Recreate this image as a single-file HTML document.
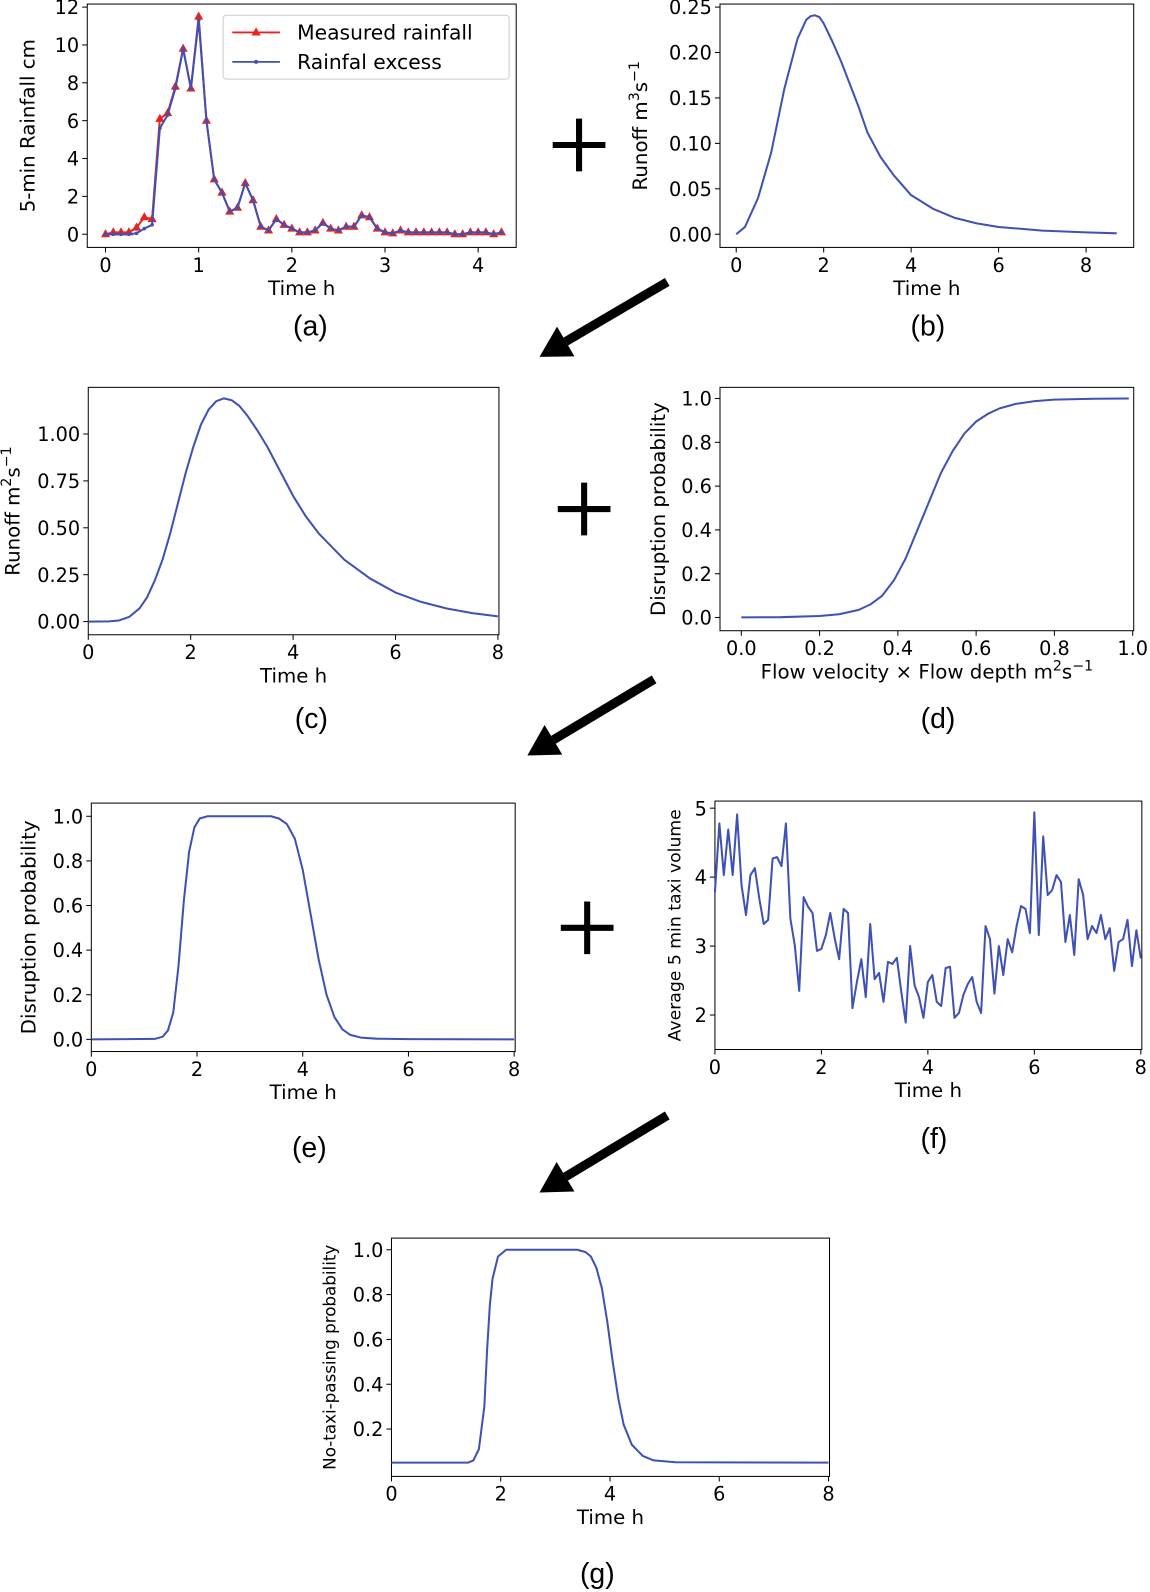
<!DOCTYPE html>
<html><head><meta charset="utf-8"><style>
html,body{margin:0;padding:0;background:#fff;}
svg{display:block;}
text{font-family:"DejaVu Sans","Liberation Sans",sans-serif;fill:#000;}
.lbl{font-family:"Liberation Sans","DejaVu Sans",sans-serif;font-size:28px;}
</style></head><body>
<svg id="fig" width="1150" height="1592" viewBox="0 0 1134 1570" xmlns="http://www.w3.org/2000/svg"></svg>
<script>
// Panel (a)
const aTimeStep = 1/12;
const aMeasured = [0,0.1,0.1,0.1,0.35,0.9,0.8,6.1,6.4,7.8,9.8,7.7,11.5,6.0,2.9,2.2,1.2,1.4,2.7,1.8,0.4,0.2,0.8,0.5,0.3,0.1,0.1,0.2,0.6,0.3,0.2,0.4,0.4,1.0,0.9,0.3,0.1,0.05,0.2,0.1,0.1,0.1,0.1,0.1,0.1,0,0,0.1,0.1,0.1,0,0.1];
const aExcess   = [0,0,0,0,0.05,0.3,0.5,5.6,6.3,7.7,9.8,7.7,11.3,6.0,2.9,2.2,1.2,1.4,2.7,1.8,0.4,0.2,0.8,0.5,0.3,0.1,0.1,0.2,0.6,0.3,0.2,0.4,0.4,1.0,0.9,0.3,0.1,0.05,0.2,0.1,0.1,0.1,0.1,0.1,0.1,0,0,0.1,0.1,0.1,0,0.1];
const aYTicks = [0,2,4,6,8,10,12];
const aXTicks = [0,1,2,3,4];
// Panel (b)
const bX = [0,0.2,0.5,0.8,1.1,1.4,1.6,1.7,1.8,1.9,2.0,2.2,2.4,2.6,2.8,3.0,3.3,3.6,4.0,4.5,5.0,5.5,6.0,7.0,8.0,8.7];
const bY = [0,0.008,0.04,0.09,0.16,0.215,0.236,0.24,0.241,0.239,0.232,0.212,0.19,0.165,0.14,0.112,0.085,0.065,0.043,0.028,0.018,0.012,0.008,0.004,0.002,0.001];
const bYTicks = [0,0.05,0.10,0.15,0.20,0.25];
const bXTicks = [0,2,4,6,8];
// Panel (c)
const cX = [0,0.4,0.6,0.8,1.0,1.15,1.3,1.45,1.6,1.75,1.9,2.05,2.2,2.35,2.5,2.65,2.8,2.95,3.1,3.3,3.5,3.75,4.0,4.25,4.5,4.75,5.0,5.5,6.0,6.5,7.0,7.5,8.0];
const cY = [0,0.001,0.006,0.025,0.07,0.13,0.22,0.33,0.47,0.63,0.79,0.93,1.05,1.13,1.175,1.19,1.18,1.15,1.1,1.02,0.93,0.8,0.67,0.56,0.47,0.4,0.33,0.23,0.155,0.105,0.07,0.045,0.028];
const cYTicks = [0,0.25,0.5,0.75,1.0];
const cXTicks = [0,2,4,6,8];
// Panel (d)
const dX = [0,0.1,0.2,0.25,0.3,0.33,0.36,0.39,0.42,0.45,0.48,0.51,0.54,0.57,0.6,0.63,0.66,0.7,0.75,0.8,0.9,0.99];
const dY = [0.0006,0.0016,0.007,0.015,0.035,0.06,0.1,0.17,0.27,0.4,0.53,0.66,0.76,0.84,0.895,0.93,0.955,0.975,0.988,0.995,0.999,1.0];
const dYTicks = [0,0.2,0.4,0.6,0.8,1.0];
const dXTicks = [0,0.2,0.4,0.6,0.8,1.0];
// Panel (e)
const eX = [0,1.2,1.35,1.45,1.55,1.65,1.75,1.85,1.95,2.05,2.2,3.4,3.55,3.7,3.85,4.0,4.15,4.3,4.45,4.6,4.75,4.9,5.1,5.4,6.0,8.0];
const eY = [0,0.002,0.012,0.04,0.12,0.33,0.62,0.84,0.95,0.99,1.0,1.0,0.99,0.965,0.9,0.76,0.56,0.36,0.2,0.1,0.045,0.02,0.008,0.003,0.001,0];
const eYTicks = [0,0.2,0.4,0.6,0.8,1.0];
const eXTicks = [0,2,4,6,8];
// Panel (f)
const fY = [3.78,4.78,4.03,4.69,4.03,4.91,3.88,3.45,4.03,4.13,3.69,3.32,3.38,4.27,4.29,4.16,4.78,3.40,3.01,2.35,3.71,3.57,3.48,2.93,2.96,3.16,3.48,3.11,2.81,3.54,3.48,2.10,2.48,2.81,2.26,3.32,2.52,2.61,2.19,2.77,2.74,2.83,2.34,1.89,3.00,2.43,2.26,1.96,2.48,2.58,2.19,2.13,2.68,2.70,1.96,2.03,2.29,2.45,2.55,2.19,2.03,3.29,3.10,2.31,3.00,2.58,3.10,2.91,3.29,3.58,3.54,3.19,4.94,3.16,4.59,3.74,3.81,4.03,3.93,3.06,3.45,2.87,3.97,3.74,3.10,3.29,3.19,3.45,3.10,3.26,2.64,3.06,3.10,3.38,2.71,3.23,2.82];
const fYTicks = [2,3,4,5];
const fXTicks = [0,2,4,6,8];
// Panel (g)
const gX = [0,1.4,1.5,1.6,1.7,1.75,1.8,1.85,1.95,2.1,3.4,3.55,3.65,3.75,3.85,3.95,4.05,4.15,4.25,4.4,4.6,4.8,5.2,8.0];
const gY = [0.05,0.05,0.06,0.11,0.3,0.55,0.75,0.87,0.97,1.0,1.0,0.99,0.97,0.92,0.83,0.68,0.5,0.34,0.22,0.13,0.08,0.06,0.052,0.05];
const gYTicks = [0.2,0.4,0.6,0.8,1.0];
const gXTicks = [0,2,4,6,8];

const NS = "http://www.w3.org/2000/svg";
const fig = document.getElementById('fig');
const BLUE = "#3f51b5";
const TICK = 19, TITLE = 19.5;
function mk(tag, attrs, parent){
  const el = document.createElementNS(NS, tag);
  for (const k in attrs) el.setAttribute(k, attrs[k]);
  (parent||fig).appendChild(el);
  return el;
}
function txt(s, x, y, size, anchor, parent){
  const t = mk('text', {x:x, y:y, 'font-size':size, 'text-anchor':anchor||'middle'}, parent);
  t.textContent = s;
  return t;
}
function axes(name, box, xr, yr, xt, yt, xfmt, yfmt, xlab, ylab, ylabX, ylabSize){
  const g = mk('g', {});
  
  
  const X = v => box.x0 + (v - xr[0])/(xr[1]-xr[0])*(box.x1-box.x0);
  const Y = v => box.y0 - (v - yr[0])/(yr[1]-yr[0])*(box.y0-box.y1);
  const r = mk('rect', {x:box.l, y:box.t, width:box.r-box.l, height:box.b-box.t, fill:'none', stroke:'#000', 'stroke-width':1}, g);
  
  
  const xg = mk('g', {}, g);
  
  
  xt.forEach(v => {
    mk('line', {x1:X(v), x2:X(v), y1:box.b, y2:box.b+5, stroke:'#000'}, xg);
    txt(xfmt(v), X(v), box.b+24, TICK, 'middle', xg);
  });
  const yg = mk('g', {}, g);
  
  
  yt.forEach(v => {
    mk('line', {x1:box.l-5, x2:box.l, y1:Y(v), y2:Y(v), stroke:'#000'}, yg);
    txt(yfmt(v), box.l-8, Y(v)+7, TICK, 'end', yg);
  });
  const xl = mk('text', {x:(box.l+box.r)/2, y:box.b+47, 'font-size':TITLE, 'text-anchor':'middle'}, g);
  xl.innerHTML = xlab;
  
  
  const yl = mk('text', {x:ylabX, y:(box.t+box.b)/2, 'font-size':ylabSize||TITLE, 'text-anchor':'middle', transform:'rotate(-90 '+ylabX+' '+((box.t+box.b)/2)+')'}, g);
  yl.innerHTML = ylab;
  
  
  return {g, X, Y};
}
function line(ax, xs, ys, color, name){
  const d = xs.map((x,i)=>(i?'L':'M')+ax.X(x).toFixed(2)+' '+ax.Y(ys[i]).toFixed(2)).join(' ');
  const p = mk('path', {d:d, fill:'none', stroke:color, 'stroke-width':2, 'stroke-linejoin':'round'}, ax.g);
  
  
  return p;
}
function panelLabel(s, x, y){
  const t = mk('text', {x:x, y:y, 'text-anchor':'middle', class:'lbl'});
  t.textContent = s;
  
  
}
const f0 = v => String(v);
const f1 = v => v.toFixed(1);
const f2 = v => v.toFixed(2);
const unit = (p) => 'm<tspan dy="-8" font-size="14">'+p+'</tspan><tspan dy="8">s</tspan><tspan dy="-8" font-size="14">−1</tspan>';

// (a)
const A = axes('panel-a-rainfall', {l:86,r:509,t:4,b:244,x0:104,x1:471.5,y0:231,y1:7}, [0,4],[0,12], aXTicks, aYTicks, f0, f0, 'Time h', '5-min Rainfall cm', 34);
const aT = aMeasured.map((v,i)=>i*aTimeStep);
line(A, aT, aMeasured, '#e8221c', 'measured-rainfall-line');
aMeasured.forEach((v,i)=>{
  const x = A.X(aT[i]), y = A.Y(v);
  const m = mk('path', {d:'M'+x+' '+(y-5)+' L'+(x+4.5)+' '+(y+3)+' L'+(x-4.5)+' '+(y+3)+' Z', fill:'#e8221c'}, A.g);
  
  
});
line(A, aT, aExcess, BLUE, 'rainfall-excess-line');
aExcess.forEach((v,i)=>{
  const c = mk('circle', {cx:A.X(aT[i]), cy:A.Y(v), r:1.8, fill:BLUE}, A.g);
  
  
});
const leg = mk('g', {});


mk('rect', {x:220,y:15,width:282,height:63,rx:3,fill:'#fff',stroke:'#ccc'}, leg);
mk('line', {x1:229,x2:276,y1:32,y2:32,stroke:'#e8221c','stroke-width':1.8}, leg);
mk('path', {d:'M252.5 27 L257 35 L248 35 Z', fill:'#e8221c'}, leg);
txt('Measured rainfall', 293, 39, 20, 'start', leg);
mk('line', {x1:229,x2:276,y1:61,y2:61,stroke:BLUE,'stroke-width':1.8}, leg);
mk('circle', {cx:252.5,cy:61,r:2,fill:BLUE}, leg);
txt('Rainfal excess', 293, 68, 20, 'start', leg);
panelLabel('(a)', 306, 331);

// (b)
const B = axes('panel-b-runoff', {l:710,r:1118,t:4,b:244,x0:726,x1:1071,y0:231,y1:7}, [0,8],[0,0.25], bXTicks, bYTicks, f0, f2, 'Time h', 'Runoff '+unit(3), 638);
line(B, bX, bY, BLUE, 'runoff-line');
panelLabel('(b)', 915, 331);

// (c)
const C = axes('panel-c-runoff', {l:87,r:492,t:382,b:626,x0:87,x1:491,y0:613,y1:428}, [0,8],[0,1.0], cXTicks, cYTicks, f0, f2, 'Time h', 'Runoff '+unit(2), 19);
line(C, cX, cY, BLUE, 'runoff-line');
panelLabel('(c)', 307, 718);

// (d)
const D = axes('panel-d-fragility', {l:710,r:1118,t:382,b:622,x0:731,x1:1117,y0:609,y1:393}, [0,1],[0,1], dXTicks, dYTicks, f1, f1, 'Flow velocity × Flow depth '+unit(2), 'Disruption probability', 656);
line(D, dX, dY, BLUE, 'fragility-curve');
panelLabel('(d)', 925, 718);

// (e)
const E = axes('panel-e-disruption', {l:90,r:508,t:792,b:1037,x0:90,x1:507,y0:1025,y1:805}, [0,8],[0,1], eXTicks, eYTicks, f0, f1, 'Time h', 'Disruption probability', 35);
line(E, eX, eY, BLUE, 'disruption-line');
panelLabel('(e)', 305, 1141);

// (f)
const F = axes('panel-f-taxi', {l:705,r:1126,t:790,b:1035,x0:705,x1:1125,y0:1001,y1:797}, [0,8],[2,5], fXTicks, fYTicks, f0, f0, 'Time h', 'Average 5 min taxi volume', 671, 17);
const fT = fY.map((v,i)=>i*8/(fY.length-1));
line(F, fT, fY, BLUE, 'taxi-volume-line');
panelLabel('(f)', 921, 1132);

// (g)
const G = axes('panel-g-no-taxi', {l:386,r:818,t:1221,b:1456,x0:386,x1:817,y0:1453.5,y1:1232.5}, [0,8],[0,1], gXTicks, gYTicks, f0, f1, 'Time h', 'No-taxi-passing probability', 331, 16.5);
line(G, gX, gY, BLUE, 'no-taxi-probability-line');
panelLabel('(g)', 589, 1561);

// plus signs
[[571,143],[576,502],[579,915]].forEach(p=>{
  const g = mk('g', {});
  
  
  mk('line', {x1:p[0]-26,x2:p[0]+26,y1:p[1],y2:p[1],stroke:'#000','stroke-width':6}, g);
  mk('line', {x1:p[0],x2:p[0],y1:p[1]-26,y2:p[1]+26,stroke:'#000','stroke-width':6}, g);
});
// arrows
[[658,278,532,352],[645,670,520,745],[658,1100,532,1176]].forEach(a=>{
  const g = mk('g', {});
  
  
  const dx=a[2]-a[0], dy=a[3]-a[1], L=Math.hypot(dx,dy), ux=dx/L, uy=dy/L;
  const bx=a[2]-ux*30, by=a[3]-uy*30;
  mk('line', {x1:a[0],y1:a[1],x2:bx,y2:by,stroke:'#000','stroke-width':9}, g);
  mk('path', {d:'M'+a[2]+' '+a[3]+' L'+(bx-uy*17)+' '+(by+ux*17)+' L'+(bx+uy*17)+' '+(by-ux*17)+' Z', fill:'#000'}, g);
});
</script>
</body></html>
